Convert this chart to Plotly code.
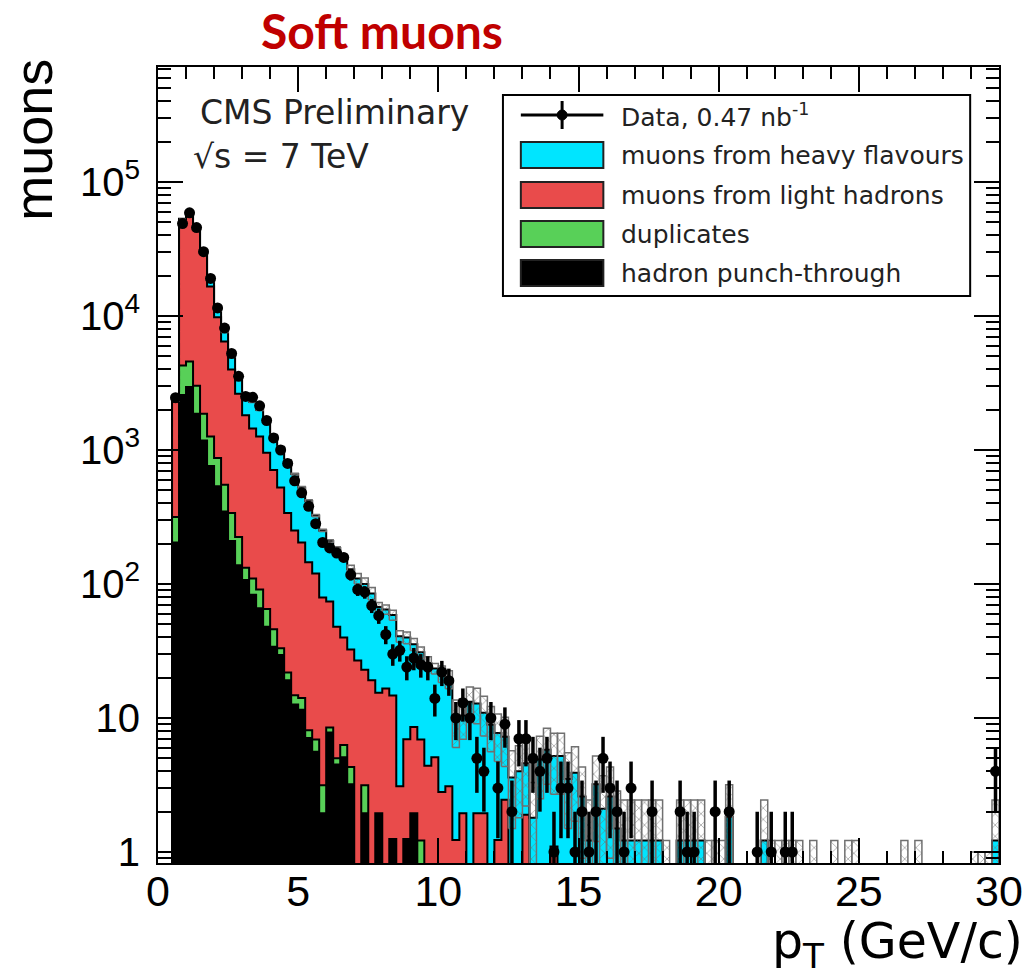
import numpy as np
import plotly.graph_objects as go

# ---- binning: 0.25 GeV/c bins from 0.5 to 30 GeV/c ----
pt_edges = np.round(np.linspace(0.5, 30.0, 119), 4)

# ---- observed muon counts per bin ----
data_counts = [
    2455, 48978, 58884, 45709, 30200, 19055, 11482, 8128, 5248, 3548,
    2512, 2470, 2138, 1660, 1230, 1000, 794, 589, 479, 380,
    282, 204, 186, 170, 158, 117, 91, 87, 69, 58,
    42, 30, 32, 24, 28, 25, 24, 14, 22, 19,
    10, 13, 10, 5, 4, 10, 3, 9, 2, 7,
    7, 5, 4, 5, 1, 3, 3, 1, 2, 1,
    2, 5, 3, 2, 1, 3, 0, 0, 2, 0,
    0, 0, 2, 1, 1, 0, 0, 2, 0, 2,
    0, 0, 0, 1, 0, 1, 0, 1, 1, 0,
    0, 0, 0, 0, 0, 0, 0, 0, 0, 0,
    0, 0, 0, 0, 0, 0, 0, 0, 0, 0,
    0, 0, 0, 0, 0, 0, 0, 4,
]

# ---- simulated components (stacked, bottom to top) ----
punch_through = [
    204, 2570, 2951, 1862, 1175, 759, 537, 347, 209, 138,
    107, 83, 66, 48, 34, 29.5, 19.1, 12.6, 11.5, 7.1,
    5.6, 1.95, 7.8, 4.5, 5.1, 3.2, 0, 1.95, 0, 1.95,
    0, 1.25, 0, 1.25, 1.95, 0, 0, 0, 0, 0,
    0, 0, 0, 0, 0, 0, 0, 0, 0, 0,
    0, 0, 0, 0, 0, 0, 0, 0, 0, 0,
    0, 0, 0, 0, 0, 0, 0, 0, 0, 0,
    0, 0, 0, 0, 0, 0, 0, 0, 0, 0,
    0, 0, 0, 0, 0, 0, 0, 0, 0, 0,
    0, 0, 0, 0, 0, 0, 0, 0, 0, 0,
    0, 0, 0, 0, 0, 0, 0, 0, 0, 0,
    0, 0, 0, 0, 0, 0, 0, 0,
]

duplicates = [
    112, 1696, 1620, 1158, 687, 500, 334, 203, 130, 86,
    25, 27, 25, 17, 12, 3.6, 2.8, 2.2, 2.6, 1.0,
    1.3, 1.2, 0.7, 0.5, 1.2, 1.1, 0, 1.2, 0, 0,
    0, 0, 0, 0, 0, 1.22, 0, 0, 0, 0,
    0, 0, 0, 0, 0, 0, 0, 0, 0, 0,
    0, 0, 0, 0, 0, 0, 0, 0, 0, 0,
    0, 0, 0, 0, 0, 0, 0, 0, 0, 0,
    0, 0, 0, 0, 0, 0, 0, 0, 0, 0,
    0, 0, 0, 0, 0, 0, 0, 0, 0, 0,
    0, 0, 0, 0, 0, 0, 0, 0, 0, 0,
    0, 0, 0, 0, 0, 0, 0, 0, 0, 0,
    0, 0, 0, 0, 0, 0, 0, 0,
]

light_hadrons = [
    1975, 48215, 51663, 42689, 27650, 15337, 8901, 5907, 3642, 2406,
    1688, 1335, 1168, 890, 662, 492, 317, 236, 190, 137,
    113, 76, 65.6, 42.9, 33.5, 28.1, 26.9, 19.8, 19.1, 13.5,
    16.6, 13.5, 3.1, 5.7, 6.6, 5.7, 4.4, 5.1, 2.8, 3.1,
    1.23, 1.95, 0, 1.95, 1.95, 0, 1.23, 2.45, 0, 0,
    1.9, 0, 0, 0, 1.1, 0, 0, 0, 0, 0,
    0, 0, 0, 0, 0, 0, 0, 0, 0, 0,
    0, 0, 0, 0, 0, 0, 0, 0, 0, 0,
    0, 0, 0, 0, 0, 0, 0, 0, 0, 0,
    0, 0, 0, 0, 0, 0, 0, 0, 0, 0,
    0, 0, 0, 0, 0, 0, 0, 0, 0, 0,
    0, 0, 0, 0, 0, 0, 0, 0,
]

heavy_flavour = [
    53, 600, 1100, 1400, 1500, 1601, 1193, 1129, 1031, 837,
    810, 846, 736, 667, 580, 522, 493, 410, 321, 272,
    204, 172, 135, 138, 115, 96.6, 83, 77, 66, 52,
    48, 44, 37.6, 32.9, 27, 24, 21.3, 18.3, 18.6, 16.4,
    8.6, 8.5, 13.2, 10.9, 9.0, 8.9, 6.5, 4.8, 3.6, 4.0,
    2.7, 1.8, 4.9, 5.8, 4.1, 5.2, 3.5, 3.9, 2.6, 1.22,
    3.2, 2.1, 2.6, 1.5, 1.22, 1.22, 1.22, 1.22, 1.22, 1.22,
    0.61, 0, 1.22, 1.22, 1.22, 1.22, 0.61, 0.61, 0.61, 1.83,
    0, 0, 0, 0, 1.22, 0.61, 0.61, 0.61, 0.61, 0.61,
    0, 0.61, 0, 0, 0.61, 0, 0.61, 0.61, 0, 0,
    0, 0, 0, 0, 0.61, 0, 0.61, 0, 0, 0,
    0, 0, 0, 0, 0.5, 0.5, 0.5, 1.22,
]

# statistical uncertainty of the summed simulation
mc_stat_err = [
    25, 300, 330, 290, 220, 150, 95, 70, 50, 38,
    30, 26, 22, 19, 16, 14, 12, 10.5, 9, 8,
    6.5, 5, 4.5, 4, 4, 9, 9.8, 11, 9, 5.2,
    5.2, 5, 4, 4, 3.6, 3, 2.9, 2.1, 3, 3,
    3.8, 3.5, 3.8, 3.8, 3.6, 3.3, 3.0, 2.9, 2.1, 2.2,
    2.4, 1.5, 2.4, 2.6, 2.5, 2.5, 2.0, 2.2, 1.7, 1.22,
    2.0, 1.6, 1.7, 1.35, 1.22, 1.22, 1.22, 1.22, 1.22, 1.22,
    0.61, 0, 1.22, 1.22, 1.22, 1.22, 0.61, 0.61, 0.61, 1.35,
    0, 0, 0, 0, 1.22, 0.61, 0.61, 0.61, 0.61, 0.61,
    0, 0.61, 0, 0, 0.61, 0, 0.61, 0.61, 0, 0,
    0, 0, 0, 0, 0.61, 0, 0.61, 0, 0, 0,
    0, 0, 0, 0, 0.5, 0.5, 0.5, 1.22,
]

FLOOR = 1e-3
FONT = "Liberation Sans"
WIDE_FONT = "DejaVu Sans"

edges = np.asarray(pt_edges, float)
centers = 0.5 * (edges[:-1] + edges[1:])

layers = [
    ("hadron punch-through", punch_through, "#000000"),
    ("duplicates", duplicates, "#58d058"),
    ("muons from light hadrons", light_hadrons, "#e94b4b"),
    ("muons from heavy flavours", heavy_flavour, "#00e5ff"),
]

fig = go.Figure()

# step outline x: rise at the first edge, one point per bin, drop at the last edge
step_x = np.concatenate([[edges[0]], edges])
fig.add_trace(go.Scatter(
    x=step_x, y=np.full(step_x.size, FLOOR), mode="lines",
    line=dict(width=0, shape="hv"), hoverinfo="skip", showlegend=False))

running = np.zeros(centers.size)
for name, vals, color in layers:
    running = running + np.asarray(vals, float)
    ys = np.concatenate([[FLOOR], np.maximum(running, FLOOR), [FLOOR]])
    fig.add_trace(go.Scatter(
        x=step_x, y=ys, mode="lines", name=name,
        line=dict(color="black", width=2, shape="hv"),
        fill="tonexty", fillcolor=color, showlegend=False))

# hatched boxes: total simulation +- its statistical uncertainty
total = running
bx, by = [], []
for lo_e, hi_e, t, e in zip(edges[:-1], edges[1:], total, mc_stat_err):
    if t <= 0 or e <= 0:
        continue
    y0 = max(t - e, FLOOR)
    y1 = t + e
    bx += [lo_e, hi_e, hi_e, lo_e, lo_e, None]
    by += [y0, y0, y1, y1, y0, None]
fig.add_trace(go.Scatter(
    x=bx, y=by, mode="lines", fill="toself",
    fillcolor="rgba(0,0,0,0)",
    fillpattern=dict(shape="x", fgcolor="#707070", bgcolor="rgba(0,0,0,0)",
                     size=8, solidity=0.12, fillmode="replace"),
    line=dict(color="#707070", width=1.5), hoverinfo="skip", showlegend=False))

# data points with Poisson errors
d = np.asarray(data_counts, float)
m = d > 0
err_up = np.sqrt(d[m])
err_dn = np.minimum(np.sqrt(d[m]), d[m] - FLOOR)
fig.add_trace(go.Scatter(
    x=centers[m], y=d[m], mode="markers", name="Data",
    marker=dict(color="black", size=11, symbol="circle"),
    error_y=dict(type="data", symmetric=False, array=err_up, arrayminus=err_dn,
                 color="black", thickness=3.5, width=0),
    error_x=dict(type="constant", value=0.125, color="black", thickness=3, width=0),
    showlegend=False))

# ---- axes ----
y_major = [1, 10, 100, 1000, 1e4, 1e5]
y_major_text = ["1", "10", "10<sup>2</sup>", "10<sup>3</sup>", "10<sup>4</sup>", "10<sup>5</sup>"]
y_minor = [k * 10.0 ** p for p in range(-1, 6) for k in range(2, 10) if 0.83 < k * 10.0 ** p < 7.2e5]

axis_common = dict(
    showline=True, linecolor="black", linewidth=2, mirror="allticks",
    ticks="inside", ticklen=25, tickwidth=2, tickcolor="black",
    showgrid=False, zeroline=False,
)

fig.update_xaxes(
    range=[0, 30], tickmode="array", tickvals=[0, 5, 10, 15, 20, 25, 30],
    ticktext=["0", "5", "10", "15", "20", "25", "30"], ticklabelstandoff=-11,
    tickfont=dict(family=FONT, size=43, color="black"),
    minor=dict(tickmode="linear", tick0=0, dtick=1, ticks="inside", ticklen=12,
               tickwidth=2, tickcolor="black", showgrid=False),
    **axis_common)
fig.update_yaxes(
    type="log", range=[-0.082, 5.858], tickmode="array",
    tickvals=y_major, ticktext=y_major_text, ticklabelstandoff=8,
    tickfont=dict(family=FONT, size=40, color="black"),
    minor=dict(tickmode="array", tickvals=y_minor, ticks="inside", ticklen=13,
               tickwidth=2, tickcolor="black", showgrid=False),
    **axis_common)

# ---- pixel helpers for text and legend placement ----
L, R, T, B = 158, 1004, 67, 863


def fx(px):
    return (px - L) / (R - L)


def fy(py):
    return (B - py) / (B - T)


ann = []
ann.append(dict(text="<b>Soft muons</b>", x=fx(383), y=fy(31), xref="paper", yref="paper",
                xanchor="center", yanchor="middle", showarrow=False,
                font=dict(family="Lato", size=48, color="#c00000")))
ann.append(dict(text="muons", x=fx(32), y=fy(140), xref="paper", yref="paper",
                xanchor="center", yanchor="middle", textangle=-90, showarrow=False,
                font=dict(family=FONT, size=54, color="black")))
ann.append(dict(text="p<sub>T</sub> (GeV/c)", x=fx(1030), y=fy(944), xref="paper", yref="paper",
                xanchor="right", yanchor="middle", showarrow=False,
                font=dict(family=WIDE_FONT, size=49, color="black")))
ann.append(dict(text="CMS Preliminary", x=fx(198), y=fy(112), xref="paper", yref="paper",
                xanchor="left", yanchor="middle", showarrow=False,
                font=dict(family=WIDE_FONT, size=33, color="#222222")))
ann.append(dict(text="√s = 7 TeV", x=fx(191), y=fy(156), xref="paper", yref="paper",
                xanchor="left", yanchor="middle", showarrow=False,
                font=dict(family=WIDE_FONT, size=33, color="#222222")))

# ---- legend box ----
shapes = []
shapes.append(dict(type="rect", xref="paper", yref="paper",
                   x0=fx(505), x1=fx(975), y0=fy(296), y1=fy(95),
                   line=dict(color="black", width=2), fillcolor="white", layer="above"))

legend_rows = [
    ("Data, 0.47 nb<sup>-1</sup>", None),
    ("muons from heavy flavours", "#00e5ff"),
    ("muons from light hadrons", "#e94b4b"),
    ("duplicates", "#58d058"),
    ("hadron punch-through", "#000000"),
]
row_y = [115, 155, 195, 234, 273]
sw_x0, sw_x1 = 523, 606
for (label, color), yc in zip(legend_rows, row_y):
    if color is None:
        shapes.append(dict(type="line", xref="paper", yref="paper",
                           x0=fx(sw_x0), x1=fx(sw_x1), y0=fy(yc), y1=fy(yc),
                           line=dict(color="black", width=3), layer="above"))
        xm = (sw_x0 + sw_x1) / 2
        shapes.append(dict(type="line", xref="paper", yref="paper",
                           x0=fx(xm), x1=fx(xm), y0=fy(yc - 14), y1=fy(yc + 14),
                           line=dict(color="black", width=3), layer="above"))
        shapes.append(dict(type="circle", xref="paper", yref="paper",
                           x0=fx(xm - 5), x1=fx(xm + 5), y0=fy(yc + 5), y1=fy(yc - 5),
                           line=dict(color="black", width=1), fillcolor="black", layer="above"))
    else:
        shapes.append(dict(type="rect", xref="paper", yref="paper",
                           x0=fx(sw_x0), x1=fx(sw_x1), y0=fy(yc + 13), y1=fy(yc - 13),
                           line=dict(color="#222222", width=2), fillcolor=color, layer="above"))
    ann.append(dict(text=label, x=fx(622), y=fy(yc), xref="paper", yref="paper",
                    xanchor="left", yanchor="middle", showarrow=False,
                    font=dict(family=WIDE_FONT, size=25, color="#222222")))

fig.update_layout(
    width=1035, height=978,
    margin=dict(l=L, r=1035 - R, t=T, b=978 - B),
    paper_bgcolor="white", plot_bgcolor="white",
    showlegend=False, annotations=ann, shapes=shapes,
)

fig.write_html("out.html")
